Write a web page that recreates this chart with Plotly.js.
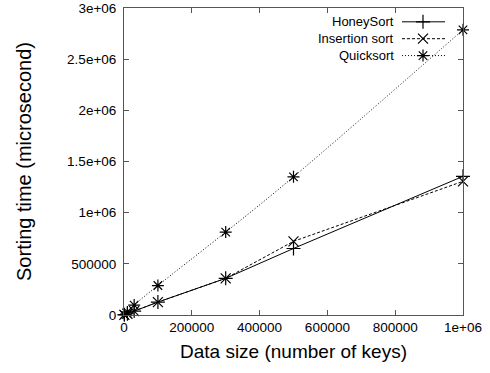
<!DOCTYPE html>
<html><head><meta charset="utf-8">
<script src="https://cdn.plot.ly/plotly-3.0.1.min.js"></script>
<style>body{margin:0;background:#fff}#c{width:490px;height:373px}</style>
</head><body><div id="c"></div>
<script>
var dataSize = [1000, 10000, 30000, 100000, 300000, 500000, 1000000];
var honeySort = [2000, 12000, 38000, 126000, 358000, 650000, 1355000];
var insertionSort = [2000, 12000, 38000, 126000, 358000, 720000, 1306000];
var quickSort = [3000, 30000, 97000, 288000, 810000, 1350000, 2787000];
var seriesNames = ['HoneySort', 'Insertion sort', 'Quicksort'];
var xTickVals = [0, 200000, 400000, 600000, 800000, 1000000];
var xTickText = ['0', '200000', '400000', '600000', '800000', '1e+06'];
var yTickVals = [0, 500000, 1000000, 1500000, 2000000, 2500000, 3000000];
var yTickText = ['0', '500000', '1e+06', '1.5e+06', '2e+06', '2.5e+06', '3e+06'];

var series = [honeySort, insertionSort, quickSort];
var dashes = ['solid', '3px,2px', '1px,2px'];
var symbols = ['cross-thin-open', 'x-thin-open', 'asterisk-open'];
var traces = series.map(function (s, i) {
  return {
    x: dataSize, y: s, name: seriesNames[i], type: 'scatter', mode: 'lines+markers',
    line: {color: '#000', width: 1, dash: dashes[i], shape: i === 2 ? 'spline' : 'linear'},
    marker: {symbol: symbols[i], size: 10, color: '#000', line: {color: '#000', width: 1.2}},
    showlegend: false, cliponaxis: false
  };
});

var shapes = [], annotations = [];
var legTop = 0.955, legStep = 0.055;
seriesNames.forEach(function (n, i) {
  var yy = legTop - i * legStep;
  annotations.push({xref: 'paper', yref: 'paper', x: 0.803, y: yy, xanchor: 'right', yanchor: 'middle',
    text: n, showarrow: false, font: {family: 'Liberation Sans, Arial, sans-serif', size: 13, color: '#000'}});
  shapes.push({type: 'line', xref: 'paper', yref: 'paper', x0: 0.82, x1: 0.947, y0: yy, y1: yy,
    line: {color: '#000', width: 1, dash: dashes[i]}});
});
var legX = [0.882, 0.882, 0.882];
var legY = [legTop, legTop - legStep, legTop - 2 * legStep];
symbols.forEach(function (sym, i) {
  traces.push({x: [legX[i]], y: [legY[i]], xaxis: 'x2', yaxis: 'y2', type: 'scatter', mode: 'markers',
    marker: {symbol: sym, size: 10, color: '#000', line: {color: '#000', width: 1.2}},
    showlegend: false, hoverinfo: 'skip'});
});

var font = {family: 'Liberation Sans, Arial, sans-serif', color: '#000'};
var layout = {
  width: 490, height: 373,
  margin: {l: 124, r: 27, t: 8, b: 58},
  paper_bgcolor: '#fff', plot_bgcolor: '#fff',
  font: font,
  showlegend: false,
  xaxis: {
    range: [0, 1000000], tickvals: xTickVals, ticktext: xTickText, ticks: 'inside', ticklen: 5,
    tickcolor: '#555', showgrid: false, zeroline: false, showline: true, linecolor: '#555', linewidth: 1,
    mirror: 'ticks', tickfont: {size: 13.5}, ticklabeloverflow: 'allow',
    title: {text: 'Data size (number of keys)', font: {size: 19}, standoff: 10}
  },
  yaxis: {
    range: [0, 3000000], tickvals: yTickVals, ticktext: yTickText, ticks: 'inside', ticklen: 5,
    tickcolor: '#555', showgrid: false, zeroline: false, showline: true, linecolor: '#555', linewidth: 1,
    mirror: 'ticks', tickfont: {size: 13.5}, ticklabeloverflow: 'allow', ticklabelstandoff: 4,
    title: {text: 'Sorting time (microsecond)', font: {size: 20}, standoff: 30}
  },
  xaxis2: {overlaying: 'x', range: [0, 1], visible: false, anchor: 'y2'},
  yaxis2: {overlaying: 'y', range: [0, 1], visible: false, anchor: 'x2'},
  shapes: shapes, annotations: annotations
};
Plotly.newPlot('c', traces, layout, {displayModeBar: false, staticPlot: true});
</script></body></html>
